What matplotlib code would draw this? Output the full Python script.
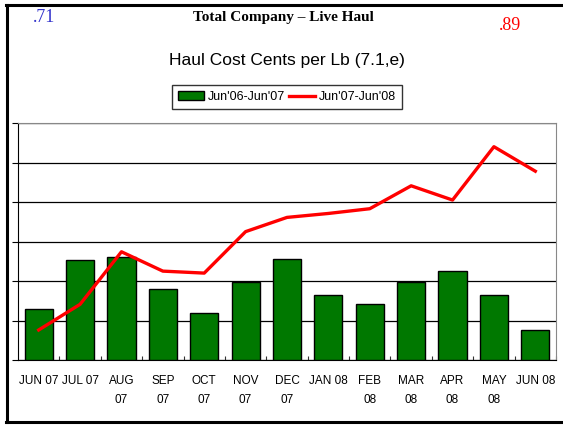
import matplotlib
matplotlib.use("Agg")
import matplotlib.pyplot as plt
from matplotlib.lines import Line2D
from matplotlib.patches import Patch

categories = ["JUN 07", "JUL 07", "AUG\n07", "SEP\n07", "OCT\n07", "NOV\n07", "DEC\n07",
              "JAN 08", "FEB\n08", "MAR\n08", "APR\n08", "MAY\n08", "JUN 08"]
prior_year = [1.29, 2.53, 2.62, 1.80, 1.20, 1.98, 2.56, 1.64, 1.41, 1.98, 2.25, 1.65, 0.75]
current_year = [0.76, 1.41, 2.74, 2.25, 2.20, 3.25, 3.61, 3.71, 3.83, 4.41, 4.05, 5.40, 4.78]
series_names = ["Jun'06-Jun'07", "Jun'07-Jun'08"]

W, H = 563, 426
fig = plt.figure(figsize=(W / 100, H / 100), dpi=100)
fig.patch.set_facecolor("white")

ax = fig.add_axes([18 / W, 1 - 360 / H, (556 - 18) / W, (360 - 123) / H])
x = list(range(len(categories)))
ax.bar(x, prior_year, width=0.68, color="#007800", edgecolor="black", linewidth=1.0, zorder=3)
ax.plot(x, current_year, color="#ff0000", linewidth=2.4, zorder=4)

ax.set_xlim(-0.5, len(categories) - 0.5)
ax.set_ylim(0, 6)
ax.set_yticks(range(0, 7))
ax.set_yticklabels([])
ax.yaxis.grid(True, color="black", linewidth=0.9, zorder=0)
ax.tick_params(axis="y", direction="out", length=4, width=0.8, color="black")
ax.set_xticks(x)
ax.set_xticklabels(categories, fontsize=8.5, family="Liberation Sans", linespacing=1.75)
ax.tick_params(axis="x", which="major", length=0, pad=11)
ax.set_xticks([i + 0.5 for i in range(len(categories))], minor=True)
ax.tick_params(axis="x", which="minor", direction="in", length=3, width=0.8, color="#333333")
for lbl in ax.get_xticklabels():
    lbl.set_verticalalignment("top")
ax.spines["left"].set_color("black")
ax.spines["bottom"].set_color("black")
ax.spines["top"].set_color("#888888")
ax.spines["right"].set_color("#888888")
ax.set_axisbelow(True)

# titles and annotations
fig.text(283 / W, 1 - 17 / H, "Total Company \u2013 Live Haul", ha="center", va="center",
         fontsize=11, fontweight="bold", family="Liberation Serif")
fig.text(44 / W, 1 - 17 / H, ".71", ha="center", va="center", fontsize=13,
         family="Liberation Serif", color="#3333cc")
fig.text(510 / W, 1 - 26 / H, ".89", ha="center", va="center", fontsize=13,
         family="Liberation Serif", color="#ff0000")
fig.text(287 / W, 1 - 60 / H, "Haul Cost Cents per Lb (7.1,e)", ha="center", va="center",
         fontsize=12.5, family="Liberation Sans")

handles = [Patch(facecolor="#007800", edgecolor="black", linewidth=1.0),
           Line2D([0], [0], color="#ff0000", linewidth=2.4)]
leg = fig.legend(handles, series_names, loc="center", bbox_to_anchor=(287 / W, 1 - 97 / H),
                 ncol=2, frameon=True, fancybox=False,
                 prop={"family": "Liberation Sans", "size": 9},
                 handlelength=2.1, handletextpad=0.3, columnspacing=0.3,
                 borderpad=0.45, edgecolor="black")
leg.get_frame().set_linewidth(1.0)

# frame lines around the figure (top, left, bottom)
fig.add_artist(Line2D([6 / W, 1], [1 - 5 / H, 1 - 5 / H], color="black", linewidth=2.2,
                      transform=fig.transFigure))
fig.add_artist(Line2D([7 / W, 7 / W], [1 - 5 / H, 1 - 422 / H], color="black", linewidth=2.2,
                      transform=fig.transFigure))
fig.add_artist(Line2D([6 / W, 1], [1 - 422 / H, 1 - 422 / H], color="black", linewidth=2.2,
                      transform=fig.transFigure))

fig.savefig("out.png", dpi=100, facecolor="white")
